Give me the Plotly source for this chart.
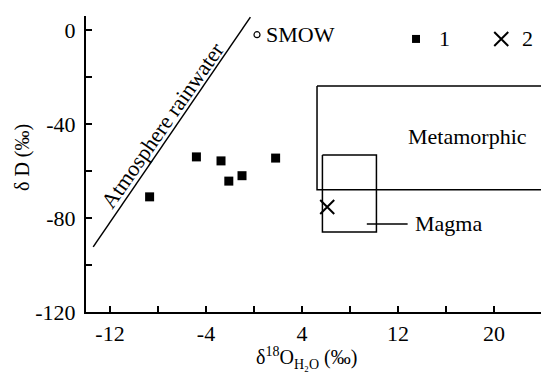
import plotly.graph_objects as go

# Data
type1_x = [-8.7, -4.8, -2.75, -2.1, -1.0, 1.8]
type1_y = [-71.0, -54.0, -55.7, -64.3, -62.0, -54.5]
type2_x = [6.1]
type2_y = [-75.3]
smow_x = [0.25]
smow_y = [-2.0]
rain_x = [-13.4, -0.3]
rain_y = [-92.3, 5.5]
meta_x = [5.25, 30.0, 30.0, 5.25, 5.25]
meta_y = [-23.8, -23.8, -68.0, -68.0, -23.8]
magma_x = [5.7, 10.2, 10.2, 5.7, 5.7]
magma_y = [-53.2, -53.2, -86.0, -86.0, -53.2]
magma_lead_x = [9.4, 12.8]
magma_lead_y = [-82.5, -82.5]
x_ticks = [-12, -4, 4, 12, 20]
x_minor = [-8, 0, 8, 16, 24]
y_ticks = [0, -40, -80, -120]
y_minor = [-20, -60, -100]

FONT = "Liberation Serif"
FS = 22

# The page body has an 8px margin, so the figure is drawn 8px in from the corner
OFF = 8
W, H = 549 - OFF, 372 - OFF
L, R, T, B = 86 - OFF, 0, 16 - OFF, H - (312 - OFF)
pw, ph = W - L - R, H - T - B

fig = go.Figure()
line_style = dict(color="black", width=1.5)
fig.add_trace(go.Scatter(x=rain_x, y=rain_y, mode="lines", line=line_style, showlegend=False))
fig.add_trace(go.Scatter(x=meta_x, y=meta_y, mode="lines", line=line_style, showlegend=False))
fig.add_trace(go.Scatter(x=magma_x, y=magma_y, mode="lines", line=line_style, showlegend=False))
fig.add_trace(go.Scatter(x=magma_lead_x, y=magma_lead_y, mode="lines", line=line_style, showlegend=False))

fig.add_trace(go.Scatter(x=type1_x, y=type1_y, mode="markers",
                         marker=dict(symbol="square", size=9, color="black"), showlegend=False))
fig.add_trace(go.Scatter(x=type2_x, y=type2_y, mode="markers",
                         marker=dict(symbol="x-thin", size=14, line=dict(color="black", width=2)),
                         showlegend=False))
fig.add_trace(go.Scatter(x=smow_x, y=smow_y, mode="markers",
                         marker=dict(symbol="circle-open", size=6, color="black", line=dict(width=1.2)),
                         showlegend=False))

# legend entries drawn in the plot
fig.add_trace(go.Scatter(x=[13.5], y=[-3.8], mode="markers",
                         marker=dict(symbol="square", size=8, color="black"), showlegend=False))
fig.add_trace(go.Scatter(x=[20.6], y=[-3.8], mode="markers",
                         marker=dict(symbol="x-thin", size=14, line=dict(color="black", width=2)),
                         showlegend=False))

ann_font = dict(family=FONT, size=FS, color="black")
annotations = [
    dict(x=0.83, y=-2, text="SMOW", xanchor="left", yanchor="middle"),
    dict(x=15.9, y=-3.8, text="1", xanchor="center", yanchor="middle"),
    dict(x=22.75, y=-3.8, text="2", xanchor="center", yanchor="middle"),
    dict(x=17.75, y=-45.5, text="Metamorphic", xanchor="center", yanchor="middle"),
    dict(x=13.25, y=-82.5, text="Magma", xanchor="left", yanchor="middle"),
    dict(x=-7.65, y=-40.5, text="Atmosphere rainwater", textangle=-55,
         xanchor="center", yanchor="middle"),
]
for a in annotations:
    a.update(xref="x", yref="y", showarrow=False, font=ann_font)

# axis titles placed by reference pixel position
titles = [
    dict(px=306, py=358, text="δ<sup>18</sup>O<sub>H₂O</sub> (‰)", textangle=0),
    dict(px=22, py=158, text="δ D (‰)", textangle=-90),
]
for t in titles:
    annotations.append(dict(
        x=(t["px"] - OFF - L) / pw, y=(H - B - (t["py"] - OFF)) / ph,
        text=t["text"], textangle=t["textangle"], xref="paper", yref="paper",
        showarrow=False, font=dict(family=FONT, size=20, color="black"),
        xanchor="center", yanchor="middle"))

fig.update_layout(
    width=W, height=H,
    margin=dict(l=L, r=R, t=T, b=B, autoexpand=False),
    paper_bgcolor="white", plot_bgcolor="white",
    font=dict(family=FONT, size=FS, color="black"),
    annotations=annotations,
    xaxis=dict(range=[-14, 24.58], tickmode="array", tickvals=x_ticks,
               ticktext=[str(v) for v in x_ticks], automargin=False,
               ticks="inside", ticklen=6, tickwidth=2, tickcolor="black",
               minor=dict(tickmode="array", tickvals=x_minor, ticks="inside",
                          ticklen=6, tickwidth=2, tickcolor="black"),
               showline=True, linecolor="black", linewidth=2, showgrid=False, zeroline=False,
               ticklabelstandoff=1),
    yaxis=dict(range=[-120, 5.96], tickmode="array", tickvals=y_ticks,
               ticktext=[str(v) for v in y_ticks], automargin=False,
               ticks="inside", ticklen=6, tickwidth=2, tickcolor="black",
               minor=dict(tickmode="array", tickvals=y_minor, ticks="inside",
                          ticklen=6, tickwidth=2, tickcolor="black"),
               showline=True, linecolor="black", linewidth=2, showgrid=False, zeroline=False,
               ticklabelstandoff=4),
)

fig.write_html("out.html")
